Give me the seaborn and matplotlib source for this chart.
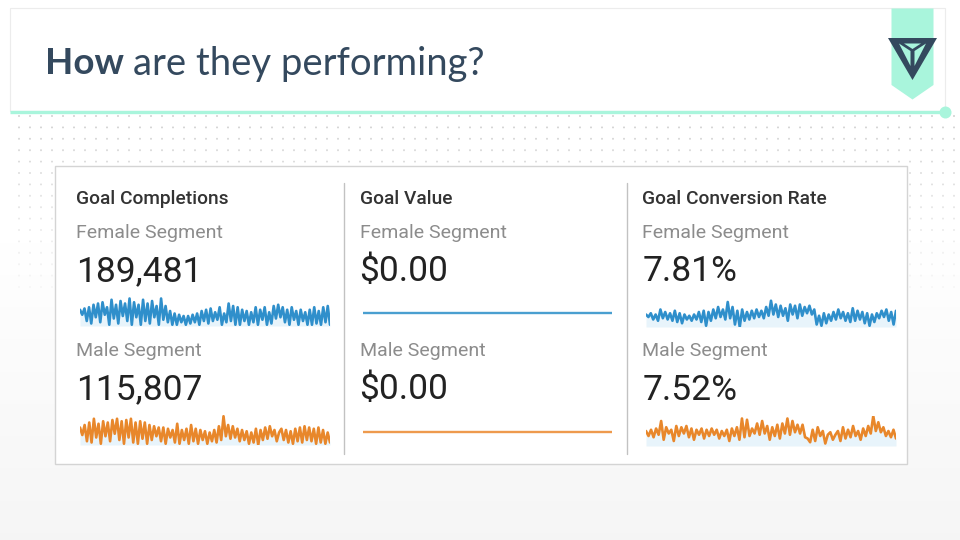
import matplotlib
matplotlib.use("Agg")
import matplotlib.pyplot as plt
import numpy as np
import pandas as pd
import seaborn as sns
from matplotlib.patches import Circle, Polygon, Rectangle

sns.set_theme(style="white")
plt.rcParams["font.family"] = ["Roboto", "DejaVu Sans"]

TITLE_DARK = "#34495e"
MINT = "#a9f5dc"
BLUE = "#2f8fcb"
ORANGE = "#e8872b"
PALE = "#e8f4fb"

metrics = ["Goal Completions", "Goal Value", "Goal Conversion Rate"]
female_values = ["189,481", "$0.00", "7.81%"]
male_values = ["115,807", "$0.00", "7.52%"]

# sparkline heights
completions_female = [
    16, 12, 17, 7, 18, 5, 20, 10, 21, 6, 22, 12, 18, 4, 24, 9, 20, 5, 23, 11,
    21, 7, 25, 4, 22, 10, 20, 4, 24, 7, 21, 5, 23, 10, 19, 4, 25, 8, 19, 6,
    15, 4, 13, 4, 12, 6, 11, 4, 11, 5, 12, 6, 13, 4, 15, 7, 16, 5, 17, 7,
    14, 8, 18, 4, 13, 6, 21, 7, 19, 4, 18, 4, 16, 7, 15, 4, 14, 6, 18, 4,
    16, 8, 18, 4, 14, 5, 19, 9, 20, 10, 18, 6, 16, 4, 18, 8, 15, 4, 16, 7,
    14, 4, 16, 4, 18, 5, 15, 4, 18, 6, 19, 4,
]
completions_male = [
    17, 11, 19, 6, 21, 5, 24, 9, 20, 4, 22, 10, 21, 6, 23, 12, 24, 7, 22, 4,
    23, 9, 24, 5, 21, 4, 22, 8, 21, 4, 19, 7, 18, 10, 17, 6, 17, 4, 16, 9,
    15, 5, 20, 4, 15, 7, 16, 4, 19, 6, 16, 4, 15, 7, 14, 4, 13, 6, 15, 5,
    18, 7, 26, 10, 19, 8, 18, 9, 16, 6, 15, 7, 14, 4, 13, 5, 16, 3, 15, 7,
    17, 8, 18, 10, 15, 6, 13, 16, 7, 15, 5, 14, 4, 16, 6, 17, 5, 18, 7, 17,
    6, 16, 4, 17, 5, 15, 4, 13, 5,
]
conversion_female = [
    13, 11, 14, 9, 13, 8, 17, 10, 15, 9, 14, 8, 16, 7, 14, 6, 13, 9, 12, 8,
    13, 9, 15, 7, 16, 4, 15, 8, 17, 10, 19, 11, 17, 9, 23, 10, 19, 5, 16, 3,
    17, 8, 15, 9, 16, 10, 17, 11, 16, 10, 19, 12, 24, 13, 21, 11, 20, 12, 18, 8,
    21, 13, 20, 10, 21, 12, 19, 14, 20, 13, 17, 5, 12, 4, 14, 6, 13, 8, 15, 9,
    17, 10, 15, 8, 14, 7, 18, 8, 16, 9, 15, 6, 14, 4, 13, 7, 14, 10, 16, 11,
    17, 8, 15, 5, 16,
]
conversion_male = [
    15, 11, 16, 10, 17, 12, 23, 8, 18, 13, 16, 7, 19, 11, 18, 13, 19, 10, 17, 8,
    16, 12, 17, 9, 16, 11, 17, 12, 16, 9, 15, 11, 16, 7, 17, 11, 18, 8, 25, 10,
    24, 11, 17, 13, 21, 12, 23, 13, 19, 8, 18, 11, 20, 9, 21, 13, 25, 12, 23, 14,
    20, 13, 20, 10, 9, 6, 16, 7, 18, 11, 15, 5, 12, 14, 8, 12, 15, 7, 18, 9,
    16, 10, 19, 11, 15, 8, 17, 11, 19, 13, 27, 15, 22, 14, 18, 11, 15, 10, 16, 9,
]
value_female = [0, 0]
value_male = [0, 0]


def sparkline(fig, left, right, baseline, values, color, ylim=(3, 27), filled=True):
    ax = fig.add_axes([left / 960, 1 - baseline / 540, (right - left) / 960, 30 / 540])
    df = pd.DataFrame({"day": range(len(values)), "value": values})
    if filled:
        ax.fill_between(df["day"], df["value"], y2=ylim[0], color=PALE, lw=0)
    sns.lineplot(data=df, x="day", y="value", color=color, lw=1.9 if filled else 1.7, ax=ax)
    ax.set_xlim(0, len(values) - 1)
    ax.set_ylim(*ylim)
    ax.axis("off")
    return ax


fig = plt.figure(figsize=(9.6, 5.4), dpi=100)

bg = fig.add_axes([0, 0, 1, 1])
bg.set_xlim(0, 960)
bg.set_ylim(540, 0)
bg.axis("off")

# page background and dot texture
shade = np.clip((np.arange(540) - 210) / 330, 0, 1)[:, None]
bg.imshow(1 - 0.04 * shade, cmap="gray", vmin=0, vmax=1, extent=(0, 960, 540, 0), aspect="auto")
for row_y in np.arange(116, 290, 11.4):
    alpha = max(0.15, 1 - (row_y - 116) / 200)
    for col_x in np.arange(19, 960, 11):
        bg.add_patch(Circle((col_x, row_y), 1.0, color="#d2d2d2", alpha=alpha, lw=0))

# header band
bg.add_patch(Rectangle((10, 8), 935, 103, facecolor="white", edgecolor="#ececec", lw=0.8))
bg.plot([10, 945], [111.5, 111.5], color=MINT, lw=2.4, solid_capstyle="butt")
bg.add_patch(Circle((945.5, 112.5), 6, color=MINT, lw=0))
bg.add_patch(Polygon([(891.5, 8.5), (933.5, 8.5), (933.5, 85), (912.5, 99.5), (891.5, 85)], color=MINT, lw=0))
bg.add_patch(Polygon([(888, 38), (937, 38), (912.5, 80)], color=TITLE_DARK, lw=0))
bg.add_patch(Polygon([(904, 43.5), (921, 43.5), (912.5, 49)], color=MINT, lw=0))
bg.add_patch(Polygon([(899, 43.5), (910.5, 51), (910.5, 66)], color=MINT, lw=0))
bg.add_patch(Polygon([(926, 43.5), (914.5, 51), (914.5, 66)], color=MINT, lw=0))

bg.text(45, 60, "How", fontsize=26.5, fontweight="bold", color=TITLE_DARK, family="Lato", va="center_baseline")
bg.text(133, 60, "are they performing?", fontsize=27.5, color=TITLE_DARK, family="Lato", va="center_baseline")

# card
bg.add_patch(Rectangle((55, 166), 851.5, 297.5, facecolor="white", edgecolor="#d4d4d4", lw=1))
for div_x in [344, 627]:
    bg.plot([div_x, div_x], [183, 454], color="#c2c2c2", lw=1)

col_x = [76.5, 359.5, 642.5]
for i, x in enumerate(col_x):
    bg.text(x, 196.5, metrics[i], fontsize=13.8, fontweight="medium", color="#333333", va="center_baseline")
    bg.text(x, 230.5, "Female Segment", fontsize=14, color="#8c8c8c", va="center_baseline")
    bg.text(x, 268, female_values[i], fontsize=25.5, color="#222222", va="center_baseline")
    bg.text(x, 349.5, "Male Segment", fontsize=14, color="#8c8c8c", va="center_baseline")
    bg.text(x, 386.5, male_values[i], fontsize=25.5, color="#222222", va="center_baseline")

sparkline(fig, 80, 330, 326, completions_female, BLUE)
sparkline(fig, 80, 330, 445, completions_male, ORANGE)
sparkline(fig, 363, 612, 328, value_female, "#4a9fd0", ylim=(-15, 15), filled=False)
sparkline(fig, 363, 612, 447, value_male, "#ee9a4d", ylim=(-15, 15), filled=False)
sparkline(fig, 646, 896, 327, conversion_female, BLUE)
sparkline(fig, 646, 896, 446, conversion_male, ORANGE)

fig.savefig("out.png", dpi=100)
